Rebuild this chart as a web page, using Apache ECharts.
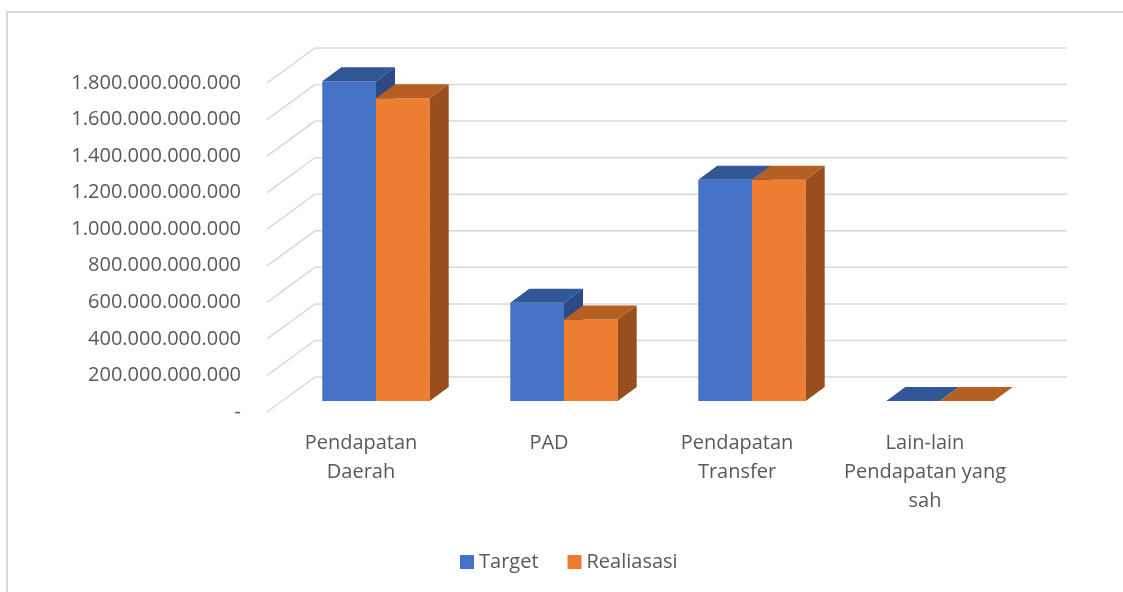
<!DOCTYPE html>
<html>
    <head>
        <meta charset="utf-8">
        <title>Target dan Realisasi Pendapatan</title>
        <script src="https://cdn.jsdelivr.net/npm/echarts@6/dist/echarts.min.js"></script>
        <style type="text/css">
            *{margin: 0}
        </style>
    </head>
    <body>
        <div id="main" style="width: 1123px;height:592px;"></div>
        <script type="text/javascript">
        // data
        var categories = ['Pendapatan\nDaerah', 'PAD', 'Pendapatan\nTransfer', 'Lain-lain\nPendapatan yang\nsah'];
        var target = [1750000000000, 537000000000, 1211000000000, 0];
        var realisasi = [1657000000000, 446000000000, 1211000000000, 0];
        var yTicks = [0, 200000000000, 400000000000, 600000000000, 800000000000,
                      1000000000000, 1200000000000, 1400000000000, 1600000000000, 1800000000000];

        var font = '"Open Sans", sans-serif';
        var txt = '#595959';
        var grid = '#D9D9D9';

        // 3d offsets (pixels)
        var wallDx = 48, wallDy = -35;   // front floor -> back wall
        var barDx = 19, barDy = -14;     // depth of a bar

        function fmt(v) {
            if (v === 0) return '-';
            return String(v).replace(/\B(?=(\d{3})+(?!\d))/g, '.');
        }

        function bar3d(idx, front, top, side) {
            return function (params, api) {
                var cat = api.value(0), val = api.value(1);
                var base = api.coord([cat, 0]);
                var tip = api.coord([cat, val]);
                var bw = api.size([1, 0])[0] / 3.5;
                var x = base[0] - bw + idx * bw;
                var y0 = base[1], y1 = tip[1];
                return {
                    type: 'group',
                    children: [
                        {type: 'rect', shape: {x: x, y: y1, width: bw, height: y0 - y1}, style: {fill: front}},
                        {type: 'polygon', shape: {points: [[x, y1], [x + barDx, y1 + barDy], [x + bw + barDx, y1 + barDy], [x + bw, y1]]}, style: {fill: top}},
                        {type: 'polygon', shape: {points: [[x + bw, y1], [x + bw + barDx, y1 + barDy], [x + bw + barDx, y0 + barDy], [x + bw, y0]]}, style: {fill: side}}
                    ]
                };
            };
        }

        var myChart = echarts.init(document.getElementById('main'));
        myChart.setOption({
            animation: false,
            backgroundColor: '#fff',
            graphic: [{
                type: 'rect',
                shape: {x: 7, y: 12, width: 1300, height: 800},
                style: {fill: 'none', stroke: grid, lineWidth: 2},
                silent: true
            }],
            legend: {
                left: 455,
                top: 547,
                itemWidth: 14,
                itemHeight: 14,
                itemGap: 29,
                icon: 'rect',
                textStyle: {color: txt, fontSize: 20, fontFamily: font},
                data: ['Target', 'Realiasasi']
            },
            grid: [
                // plane of the bar fronts
                {left: 282, right: 89, top: 72, bottom: 191},
                // front edge of the floor (axis labels)
                {left: 267, right: 104, top: 83, bottom: 180}
            ],
            xAxis: [
                {gridIndex: 0, type: 'category', data: categories, show: false},
                {
                    gridIndex: 1, type: 'category', data: categories,
                    axisLine: {show: false}, axisTick: {show: false},
                    axisLabel: {color: txt, fontSize: 20, fontFamily: font, lineHeight: 29, margin: 17, interval: 0}
                }
            ],
            yAxis: [
                {gridIndex: 0, type: 'value', min: 0, max: 1800000000000, interval: 200000000000, show: false},
                {
                    gridIndex: 1, type: 'value', min: 0, max: 1800000000000, interval: 200000000000,
                    axisLine: {show: false}, axisTick: {show: false}, splitLine: {show: false},
                    axisLabel: {color: txt, fontSize: 20, fontFamily: font, margin: 26, formatter: fmt}
                }
            ],
            series: [
                {
                    type: 'custom',
                    xAxisIndex: 1, yAxisIndex: 1,
                    silent: true,
                    z: 1,
                    data: yTicks.map(function (v) { return [0, v]; }),
                    renderItem: function (params, api) {
                        var cs = params.coordSys;
                        var y = api.coord([0, api.value(1)])[1];
                        var x0 = cs.x;
                        return {
                            type: 'polyline',
                            shape: {points: [[x0, y], [x0 + wallDx, y + wallDy], [x0 + cs.width + wallDx, y + wallDy]]},
                            style: {stroke: grid, lineWidth: 1.5, fill: 'none'}
                        };
                    }
                },
                {
                    name: 'Target',
                    type: 'custom',
                    xAxisIndex: 0, yAxisIndex: 0,
                    z: 2,
                    itemStyle: {color: '#4472C4'},
                    data: target.map(function (v, i) { return [i, v]; }),
                    renderItem: bar3d(0, '#4472C4', '#325797', '#2C4A85')
                },
                {
                    name: 'Realiasasi',
                    type: 'custom',
                    xAxisIndex: 0, yAxisIndex: 0,
                    z: 3,
                    itemStyle: {color: '#ED7D31'},
                    data: realisasi.map(function (v, i) { return [i, v]; }),
                    renderItem: bar3d(1, '#ED7D31', '#B55F22', '#994E1D')
                }
            ]
        });
        </script>
    </body>
</html>
